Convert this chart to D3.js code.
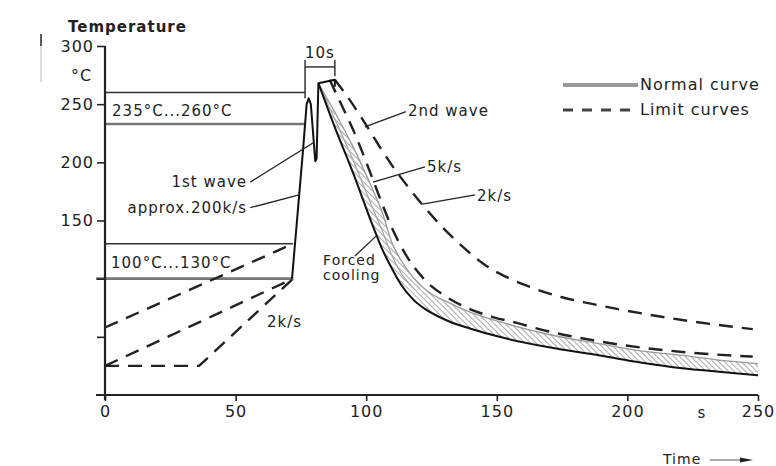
<!DOCTYPE html>
<html>
<head>
<meta charset="utf-8">
<script src="https://cdn.jsdelivr.net/npm/d3@7"></script>
<style>
  body { margin: 0; background: #fff; }
  text { font-family: "DejaVu Sans", sans-serif; fill: #222; letter-spacing: 1px; }
</style>
</head>
<body>
<div id="chart"></div>
<script>
// soldering profile, values (time in s, temperature in °C)
const xTicks = [0, 50, 100, 150, 200, 250]
const yTicks = [50, 100, 150, 200, 250, 300]
const yLabels = [150, 200, 250, 300]

// preheat limit curves (dashed)
const preATime = [0, 72]
const preATemp = [58, 130]
const preBTime = [0, 72]
const preBTemp = [25, 100]
const preCTime = [0, 36, 72]
const preCTemp = [25, 25, 100]

// normal curve, rise + 1st and 2nd wave
const waveTime = [71.6, 75.8, 77.2, 78, 78.8, 80.5, 81, 81.7, 88, 88]
const waveTemp = [100, 210, 250, 255, 250, 201, 203, 268, 271, 265]

// cooling band: forced cooling (lower, black) and top edge (grey)
const coolTime = [81.7, 88, 94.6, 102.6, 106, 110, 113, 118, 122.5, 132, 140, 151, 170, 189.5, 205, 221, 235, 250]
const forcedTemp = [268, 230, 193, 145, 126, 108, 96, 82, 74, 63, 57, 50, 41, 34, 28, 23, 20, 17]
const bandTopTemp = [268, 243, 215, 176, 158, 130, 117, 101, 91, 79, 71, 63, 52, 44, 38, 34, 30, 27]
const normalTime = [81.7, 88, 94.6, 102.6, 106, 110, 113, 118]
const normalTemp = [268, 237, 204, 160, 142, 119, 106, 92]

// limit curves for cooling
const lim5Time = [86, 90, 95, 102.6, 106.5, 110, 115.6, 122, 129.5, 138.6, 148.5, 157.7, 164, 189.5, 221, 248]
const lim5Temp = [271, 252, 228, 185, 162, 143, 119, 100, 86, 75, 67, 62, 58, 46, 37, 33]
const lim2Time = [88, 92, 96, 100, 105, 110, 116, 122.5, 128, 136.7, 144.7, 155, 165, 175, 186, 196, 221, 248]
const lim2Temp = [271, 259, 246, 232, 214, 197, 179, 161, 147, 128, 113, 100, 91, 84, 78.5, 74, 64.5, 56.6]

// temperature windows
const windows = [
  { lo: 233, hi: 260, tEnd: 76.6, label: "235°C...260°C", lt: 2.7, lT: 240 },
  { lo: 100, hi: 130, tEnd: 72, label: "100°C...130°C", lt: 2.3, lT: 109 }
]

// annotations: text position and leader (time, temp)
const notes = [
  { text: "1st wave", t: 54.4, T: 179, anchor: "end", from: [55.6, 183], to: [79.9, 217] },
  { text: "approx.200k/s", t: 54.4, T: 156.5, anchor: "end", from: [55.6, 161], to: [74.3, 172] },
  { text: "2nd wave", t: 116, T: 240, anchor: "start", from: [115.2, 243.5], to: [99.5, 230.4] },
  { text: "5k/s", t: 123.3, T: 191.7, anchor: "start", from: [122.5, 196], to: [102.6, 183] },
  { text: "2k/s", t: 142.4, T: 166.8, anchor: "start", from: [141.7, 172], to: [121.5, 164] },
  { text: "2k/s", t: 62, T: 58.5, anchor: "start" },
  { text: "Forced", t: 83.5, T: 112, anchor: "start", size: 14, from: [95.7, 119.5], to: [104, 137] },
  { text: "cooling", t: 83.5, T: 98.5, anchor: "start", size: 14 }
]

const width = 776
const height = 466

const x = d3.scaleLinear().domain([0, 250]).range([105, 758])
const y = d3.scaleLinear().domain([0, 300]).range([395, 46])

const svg = d3.select("#chart")
  .append("svg")
  .attr("width", width)
  .attr("height", height)

const defs = svg.append("defs")
defs.append("pattern")
  .attr("id", "hatch")
  .attr("patternUnits", "userSpaceOnUse")
  .attr("width", 4)
  .attr("height", 4)
  .attr("patternTransform", "rotate(-45)")
  .append("line")
  .attr("x1", 0).attr("y1", 0)
  .attr("x2", 0).attr("y2", 4)
  .attr("stroke", "#6f6f6f")
  .attr("stroke-width", 1.2)

const zip = (ts, vs) => ts.map((t, i) => [t, vs[i]])

const line = d3.line().x(d => x(d[0])).y(d => y(d[1]))
const smooth = d3.line().x(d => x(d[0])).y(d => y(d[1])).curve(d3.curveMonotoneX)

// hatched band
const band = d3.area()
  .x(d => x(d.t))
  .y0(d => y(d.lo))
  .y1(d => y(d.hi))
  .curve(d3.curveMonotoneX)

svg.append("path")
  .datum(coolTime.map((t, i) => ({ t: t, lo: forcedTemp[i], hi: bandTopTemp[i] })))
  .attr("d", band)
  .attr("fill", "url(#hatch)")

// windows
windows.forEach((w, i) => {
  svg.append("line")
    .attr("x1", x(0)).attr("x2", x(w.tEnd))
    .attr("y1", y(w.hi)).attr("y2", y(w.hi))
    .attr("stroke", "#333").attr("stroke-width", 1.6)
  svg.append("line")
    .attr("x1", i == 1 ? x(0) - 9 : x(0)).attr("x2", x(w.tEnd))
    .attr("y1", y(w.lo)).attr("y2", y(w.lo))
    .attr("stroke", "#777").attr("stroke-width", 2.6)
  svg.append("text")
    .attr("x", x(w.lt)).attr("y", y(w.lT))
    .attr("font-size", 15)
    .text(w.label)
})

// preheat dashed
const dashed = [zip(preATime, preATemp), zip(preBTime, preBTemp), zip(preCTime, preCTemp)]
dashed.forEach(d => {
  svg.append("path")
    .attr("d", line(d))
    .attr("fill", "none")
    .attr("stroke", "#222")
    .attr("stroke-width", 2.4)
    .attr("stroke-dasharray", "14,9")
})

// cooling curves
svg.append("path")
  .attr("d", smooth(zip(coolTime, bandTopTemp)))
  .attr("fill", "none").attr("stroke", "#999").attr("stroke-width", 1.3)

svg.append("path")
  .attr("d", smooth(zip(normalTime, normalTemp)))
  .attr("fill", "none").attr("stroke", "#aaa").attr("stroke-width", 1.3)

svg.append("path")
  .attr("d", smooth(zip(coolTime, forcedTemp)))
  .attr("fill", "none").attr("stroke", "#111").attr("stroke-width", 2)

svg.append("path")
  .attr("d", smooth(zip(lim5Time, lim5Temp)))
  .attr("fill", "none").attr("stroke", "#222").attr("stroke-width", 2.4)
  .attr("stroke-dasharray", "14,9")

svg.append("path")
  .attr("d", smooth(zip(lim2Time, lim2Temp)))
  .attr("fill", "none").attr("stroke", "#222").attr("stroke-width", 2.4)
  .attr("stroke-dasharray", "14,9")

// waves
svg.append("path")
  .attr("d", line(zip(waveTime, waveTemp)))
  .attr("fill", "none").attr("stroke", "#111").attr("stroke-width", 2)
  .attr("stroke-linejoin", "round")

// 10s marker
const tenA = 76.6, tenB = 88
svg.append("line").attr("x1", x(tenA)).attr("x2", x(tenA)).attr("y1", y(288)).attr("y2", y(255))
  .attr("stroke", "#333").attr("stroke-width", 1.5)
svg.append("line").attr("x1", x(tenB)).attr("x2", x(tenB)).attr("y1", y(288)).attr("y2", y(274))
  .attr("stroke", "#333").attr("stroke-width", 1.5)
svg.append("line").attr("x1", x(tenA)).attr("x2", x(tenB)).attr("y1", y(282)).attr("y2", y(282))
  .attr("stroke", "#333").attr("stroke-width", 1.5)
svg.append("text")
  .attr("x", x((tenA + tenB) / 2)).attr("y", y(290))
  .attr("text-anchor", "middle").attr("font-size", 15)
  .text("10s")

// annotations
notes.forEach(n => {
  if (n.from) {
    svg.append("line")
      .attr("x1", x(n.from[0])).attr("y1", y(n.from[1]))
      .attr("x2", x(n.to[0])).attr("y2", y(n.to[1]))
      .attr("stroke", "#222").attr("stroke-width", 1.3)
  }
  svg.append("text")
    .attr("x", x(n.t)).attr("y", y(n.T))
    .attr("text-anchor", n.anchor)
    .attr("font-size", n.size || 15)
    .text(n.text)
})

// axes
const yAxis = d3.axisLeft(y)
  .tickValues(yTicks)
  .tickSize(8)
  .tickSizeOuter(0)
  .tickFormat(d => yLabels.includes(d) ? d : "")

const gy = svg.append("g")
  .attr("transform", `translate(${x(0)},0)`)
  .call(yAxis)
gy.select(".domain").remove()
gy.selectAll("line").attr("stroke", "#222").attr("stroke-width", 1.6)
gy.selectAll("text").attr("font-size", 16).attr("font-family", "DejaVu Sans").attr("fill", "#222")

const xAxis = d3.axisBottom(x)
  .tickValues(xTicks)
  .tickSize(6)
  .tickSizeOuter(0)

const gx = svg.append("g")
  .attr("transform", `translate(0,${y(0)})`)
  .call(xAxis)
gx.select(".domain").remove()
gx.selectAll("line").attr("stroke", "#222").attr("stroke-width", 1.6)
gx.selectAll("text").attr("font-size", 16).attr("font-family", "DejaVu Sans").attr("fill", "#222").attr("dy", "0.8em")

svg.append("line")
  .attr("x1", x(0)).attr("x2", x(0))
  .attr("y1", y(300)).attr("y2", y(0) + 5)
  .attr("stroke", "#222").attr("stroke-width", 2.2)
svg.append("line")
  .attr("x1", x(0) - 9).attr("x2", x(250))
  .attr("y1", y(0)).attr("y2", y(0))
  .attr("stroke", "#222").attr("stroke-width", 2.2)

svg.append("text").attr("x", x(228.5)).attr("y", 418)
  .attr("text-anchor", "middle").attr("font-size", 15).text("s")
svg.append("text").attr("x", 71).attr("y", 81).attr("font-size", 16).text("°C")
svg.append("text").attr("x", 68).attr("y", 32).attr("font-size", 15)
  .attr("font-weight", "bold").text("Temperature")

// small up arrow at top left
svg.append("line").attr("x1", 41).attr("x2", 41).attr("y1", 44).attr("y2", 82)
  .attr("stroke", "#bbb").attr("stroke-width", 1)
svg.append("line").attr("x1", 41).attr("x2", 41).attr("y1", 34).attr("y2", 46)
  .attr("stroke", "#333").attr("stroke-width", 1.6)

// time arrow
svg.append("text").attr("x", 663).attr("y", 464).attr("font-size", 14).text("Time")
svg.append("line").attr("x1", 710).attr("x2", 746).attr("y1", 460).attr("y2", 460)
  .attr("stroke", "#555").attr("stroke-width", 1)
svg.append("path").attr("d", "M740,457.5L753,460L740,462.5Z").attr("fill", "#222")

// legend
const legend = svg.append("g").attr("transform", "translate(563,85)")
legend.append("line").attr("x1", 0).attr("x2", 75).attr("y1", 0).attr("y2", 0)
  .attr("stroke", "#9a9a9a").attr("stroke-width", 4)
legend.append("text").attr("x", 77).attr("y", 5).attr("font-size", 16).text("Normal curve")
legend.append("line").attr("x1", 0).attr("x2", 72).attr("y1", 25).attr("y2", 25)
  .attr("stroke", "#444").attr("stroke-width", 3).attr("stroke-dasharray", "10,9")
legend.append("text").attr("x", 77).attr("y", 30).attr("font-size", 16).text("Limit curves")
</script>
</body>
</html>
